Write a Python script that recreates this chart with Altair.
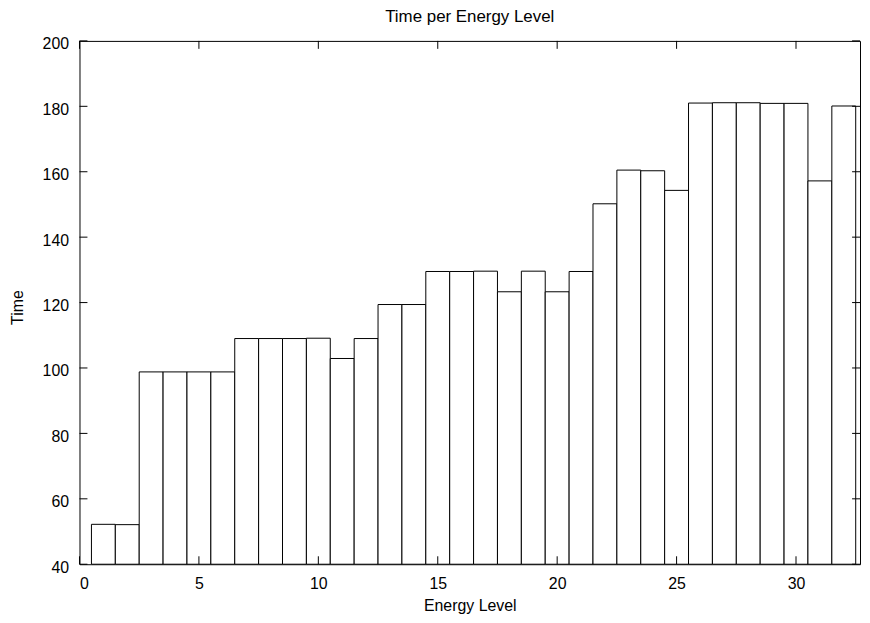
import altair as alt
import pandas as pd

energy = list(range(1, 33))
time_vals = [52.2, 52.1, 98.8, 98.8, 98.8, 98.8, 109.0, 109.0, 109.0, 109.1,
             102.9, 109.0, 119.4, 119.4, 129.5, 129.5, 129.6, 123.3, 129.6, 123.3,
             129.5, 150.2, 160.5, 160.3, 154.3, 181.0, 181.1, 181.1, 180.9, 180.9,
             157.2, 180.1]
x_ticks = [0, 5, 10, 15, 20, 25, 30]
y_ticks = [40, 60, 80, 100, 120, 140, 160, 180, 200]

W, H = 786, 527
FONT = "Liberation Sans"
TL = 8

df = pd.DataFrame({"energy": energy, "time": time_vals})
xt = pd.DataFrame({"v": x_ticks})
yt = pd.DataFrame({"v": y_ticks})

xscale = alt.Scale(domain=[0, 32.68], nice=False, zero=False)
yscale = alt.Scale(domain=[40, 200], nice=False, zero=False)

bars = alt.Chart(df).transform_calculate(
    x0="datum.energy - 0.5", x1="datum.energy + 0.5"
).mark_rect(fill="white", stroke="black", strokeWidth=1).encode(
    x=alt.X("x0:Q", scale=xscale, axis=alt.Axis(
        values=x_ticks, title="Energy Level", ticks=False, domain=False, grid=False,
        labelFont=FONT, labelFontSize=16, labelColor="black", labelPadding=11,
        titleFont=FONT, titleFontSize=16, titleFontWeight="normal", titleColor="black",
        titleY=47, titleBaseline="alphabetic")),
    x2="x1:Q",
    y=alt.Y("time:Q", scale=yscale, axis=alt.Axis(
        values=y_ticks, title="Time", ticks=False, domain=False, grid=False,
        labelFont=FONT, labelFontSize=16, labelColor="black", labelPadding=11,
        labelOffset=3,
        titleFont=FONT, titleFontSize=16, titleFontWeight="normal", titleColor="black",
        titleX=-57, titleY=268, titleAngle=-90, titleBaseline="alphabetic")),
    y2=alt.datum(40),
)

xb = alt.Chart(xt).mark_rule(color="black", strokeWidth=1).encode(
    x=alt.X("v:Q", scale=xscale), y=alt.value(H), y2=alt.value(H - TL))
xtop = alt.Chart(xt).mark_rule(color="black", strokeWidth=1).encode(
    x=alt.X("v:Q", scale=xscale), y=alt.value(0), y2=alt.value(TL))
yl = alt.Chart(yt).mark_rule(color="black", strokeWidth=1).encode(
    y=alt.Y("v:Q", scale=yscale), x=alt.value(0), x2=alt.value(TL))
yr = alt.Chart(yt).mark_rule(color="black", strokeWidth=1).encode(
    y=alt.Y("v:Q", scale=yscale), x=alt.value(W - TL), x2=alt.value(W))

chart = alt.layer(bars, xb, xtop, yl, yr).properties(
    width=W, height=H,
    title=alt.TitleParams("Time per Energy Level", font=FONT, fontSize=17,
                          fontWeight="normal", color="black", anchor="middle",
                          offset=10),
    autosize=alt.AutoSizeParams(type="none"),
    padding={"left": 72, "top": 31, "right": 2, "bottom": 50},
).configure(background="white").configure_view(stroke="black", strokeWidth=1)

chart.save("out.html", embed_options={"renderer": "svg", "actions": False})
